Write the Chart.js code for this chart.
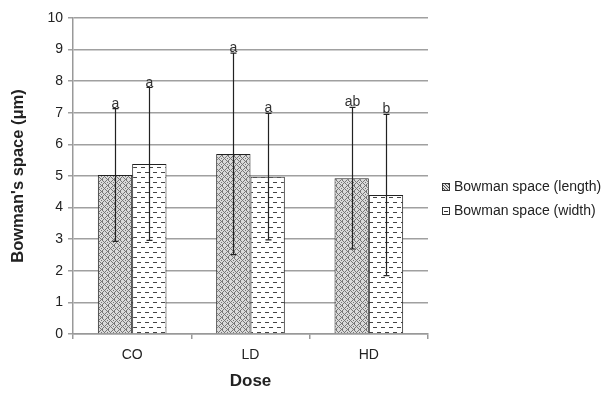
<!DOCTYPE html>
<html>
<head>
<meta charset="utf-8">
<script src="https://cdn.jsdelivr.net/npm/chart.js@4.4.1/dist/chart.umd.min.js"></script>
<style>
html,body{margin:0;padding:0;background:#fff;}
#wrap{width:612px;height:396px;position:relative;}
</style>
</head>
<body>
<div id="wrap"><canvas id="c" width="612" height="396"></canvas></div>
<script>
const categories = ['CO', 'LD', 'HD'];
const lengthMean = [5.03, 5.70, 4.93];
const lengthSD = [2.10, 3.19, 2.24];
const widthMean = [5.38, 4.98, 4.40];
const widthSD = [2.42, 2.00, 2.55];
const lengthLetters = ['a', 'a', 'ab'];
const widthLetters = ['a', 'a', 'b'];
const seriesNames = ['Bowman space (length)', 'Bowman space (width)'];
const yTicks = [0,1,2,3,4,5,6,7,8,9,10];

const FONT = '"Liberation Sans", Arial, sans-serif';

function makeWeave(){
  const c = document.createElement('canvas'); c.width = 6; c.height = 6;
  const x = c.getContext('2d');
  x.fillStyle = '#dadada'; x.fillRect(0,0,6,6);
  x.fillStyle = '#767676';
  const pts = [[0,0],[1,1],[2,2],[3,1],[4,0],[3,3],[4,4],[5,5],[0,4],[1,3],[5,2],[0,5]];
  pts.forEach(p=>x.fillRect(p[0],p[1],1,1));
  return x.createPattern(c,'repeat');
}
function makeDash(){
  const c = document.createElement('canvas'); c.width = 8; c.height = 10;
  const x = c.getContext('2d');
  x.fillStyle = '#ffffff'; x.fillRect(0,0,8,10);
  x.fillStyle = '#444444';
  x.fillRect(1,2,4,1);
  x.fillRect(5,7,3,1); x.fillRect(0,7,1,1);
  return x.createPattern(c,'repeat');
}
function makeLegendWeave(ctx){
  const c = document.createElement('canvas'); c.width = 3; c.height = 3;
  const x = c.getContext('2d');
  x.fillStyle = '#ddd'; x.fillRect(0,0,3,3);
  x.fillStyle = '#555'; x.fillRect(0,0,1,1); x.fillRect(1,1,1,1); x.fillRect(2,2,1,1);
  return ctx.createPattern(c,'repeat');
}

const ctx0 = document.getElementById('c').getContext('2d');
const weave = makeWeave();
const dash = makeDash();

const errPlugin = {
  id: 'errbars',
  afterDatasetsDraw(chart){
    const ctx = chart.ctx;
    const y = chart.scales.y;
    const sds = [lengthSD, widthSD];
    const letters = [lengthLetters, widthLetters];
    chart.data.datasets.forEach((ds, di)=>{
      const meta = chart.getDatasetMeta(di);
      meta.data.forEach((bar, i)=>{
        const m = ds.data[i], s = sds[di][i];
        const top = y.getPixelForValue(m + s), bot = y.getPixelForValue(m - s);
        const x = Math.round(bar.x) + 0.5;
        ctx.save();
        ctx.strokeStyle = '#222'; ctx.lineWidth = 1.2;
        ctx.beginPath();
        ctx.moveTo(x, top); ctx.lineTo(x, bot);
        ctx.moveTo(x-3, top); ctx.lineTo(x+3, top);
        ctx.moveTo(x-3, bot); ctx.lineTo(x+3, bot);
        ctx.stroke();
        ctx.fillStyle = '#333';
        ctx.font = '14px ' + FONT;
        ctx.textAlign = 'center'; ctx.textBaseline = 'alphabetic';
        ctx.fillText(letters[di][i], x, top - 1);
        ctx.restore();
      });
    });
  }
};

const legendPlugin = {
  id: 'customLegend',
  afterDraw(chart){
    const ctx = chart.ctx;
    const lw = makeLegendWeave(ctx);
    const fills = [lw, '#fff'];
    ctx.save();
    ctx.font = '14px ' + FONT;
    ctx.textBaseline = 'middle'; ctx.textAlign = 'left';
    chart.data.datasets.forEach((ds, i)=>{
      const yy = 187 + i*24;
      ctx.fillStyle = fills[i];
      ctx.fillRect(442.5, yy-3.5, 7, 7);
      ctx.strokeStyle = '#333'; ctx.lineWidth = 1;
      ctx.strokeRect(442.5, yy-3.5, 7, 7);
      if (i === 1){ ctx.fillStyle='#333'; ctx.fillRect(444, yy, 4, 1); }
      ctx.fillStyle = '#222';
      ctx.fillText(ds.label, 454, yy);
    });
    ctx.restore();
  }
};

new Chart(ctx0, {
  type: 'bar',
  data: {
    labels: categories,
    datasets: [
      { label: seriesNames[0], data: lengthMean, backgroundColor: weave, borderColor: '#222', borderWidth: 1, barPercentage: 1, categoryPercentage: 0.58 },
      { label: seriesNames[1], data: widthMean, backgroundColor: dash, borderColor: '#222', borderWidth: 1, barPercentage: 1, categoryPercentage: 0.58 }
    ]
  },
  options: {
    responsive: false,
    animation: false,
    devicePixelRatio: 1,
    layout: { padding: { top: 18, right: 184, left: 0, bottom: 0 } },
    plugins: { legend: { display: false }, tooltip: { enabled: false } },
    scales: {
      x: {
        afterFit(s){ s.height = 62; },
        grid: { display: true, drawOnChartArea: false, offset: true, tickLength: 5, color: '#999', lineWidth: 1.5 },
        border: { color: '#999', width: 1.5 },
        ticks: { color: '#222', font: { family: FONT, size: 14 }, padding: 8 },
        title: { display: true, text: 'Dose', color: '#222', font: { family: FONT, size: 17, weight: 'bold' }, padding: { top: 12 } }
      },
      y: {
        min: 0, max: 10,
        afterFit(s){ s.width = 73; },
        afterBuildTicks(s){ s.ticks = yTicks.map(v=>({value:v})); },
        grid: { color: '#a0a0a0', lineWidth: 1.5, tickLength: 5 },
        border: { color: '#999', width: 1.5 },
        ticks: { color: '#222', font: { family: FONT, size: 14 }, padding: 5 },
        title: { display: true, text: "Bowman's space (μm)", color: '#222', font: { family: FONT, size: 16.5, weight: 'bold' }, padding: { top: 9, bottom: 0 } }
      }
    }
  },
  plugins: [errPlugin, legendPlugin]
});
</script>
</body>
</html>
